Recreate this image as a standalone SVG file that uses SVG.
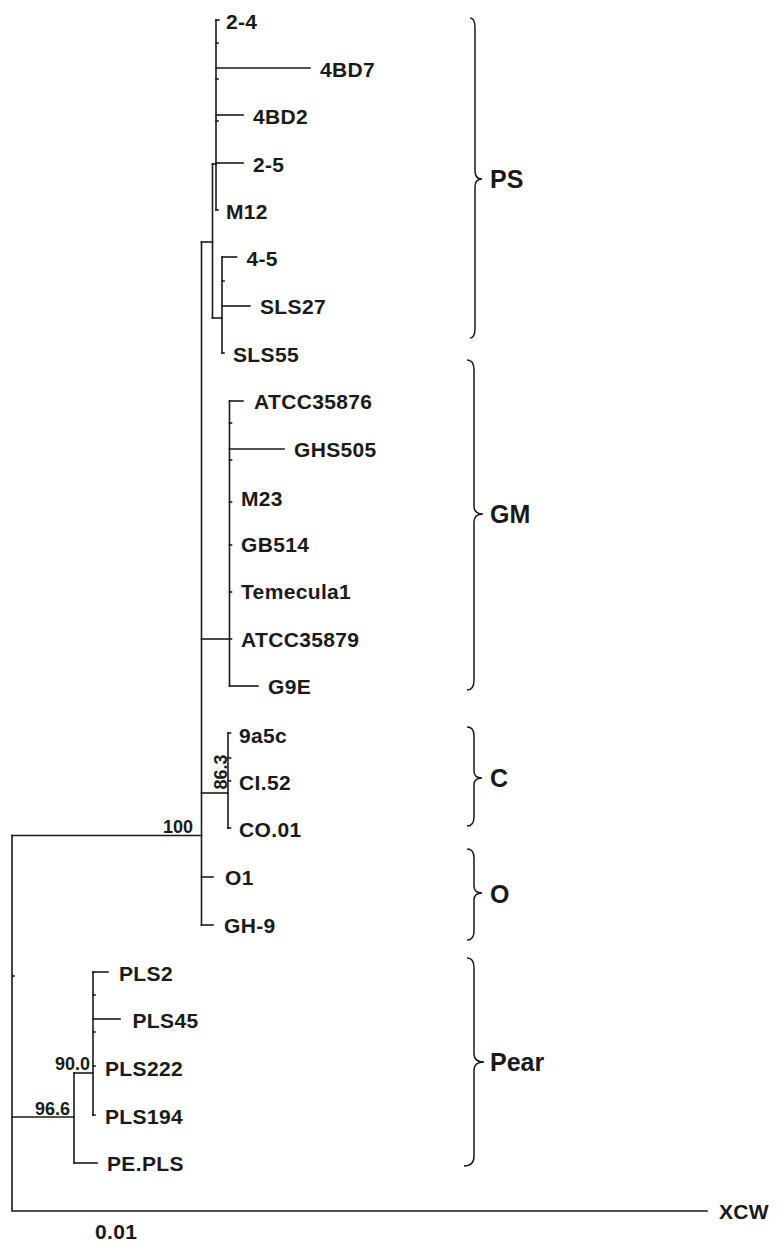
<svg xmlns="http://www.w3.org/2000/svg" width="781" height="1242" viewBox="0 0 781 1242">
<style>
.t{font-family:"Liberation Sans",Arial,sans-serif;font-weight:bold;font-size:21px;letter-spacing:0.35px;fill:#1a1a1a}
.g{font-family:"Liberation Sans",Arial,sans-serif;font-weight:bold;font-size:25px;fill:#1a1a1a}
.b{font-family:"Liberation Sans",Arial,sans-serif;font-weight:bold;font-size:18px;fill:#1a1a1a}
.l{stroke:#1a1a1a;stroke-width:1.6;fill:none;stroke-linecap:square}
.br{stroke:#1a1a1a;stroke-width:1.5;fill:none}
</style>
<rect width="781" height="1242" fill="#fff"/>
<g id="connectors" class="l">
<path d="M12,835.5 V1211 H707"/>
<path d="M12,976 H14"/>
<path d="M12,835.5 H201.5"/>
<path d="M201.5,242 V925"/>
<path d="M201.5,242 H212.5"/>
<path d="M201.5,639 H229.5"/>
<path d="M201.5,793 H228"/>
<path d="M201.5,877 H213"/>
<path d="M201.5,925 H213"/>
<path d="M212.5,164 V318"/>
<path d="M212.5,164 H216"/>
<path d="M216,20 V210"/>
<path d="M216,20 H219"/>
<path d="M216,43 H218"/>
<path d="M216,68 H310"/>
<path d="M216,79 H218"/>
<path d="M216,115 H243"/>
<path d="M216,121 H218"/>
<path d="M216,163 H243"/>
<path d="M216,210 H218"/>
<path d="M212.5,318 H222"/>
<path d="M222,257 V353"/>
<path d="M222,257 H236.5"/>
<path d="M222,281 H224"/>
<path d="M222,306 H250"/>
<path d="M222,353 H224"/>
<path d="M229.5,401 V686"/>
<path d="M229.5,401 H243"/>
<path d="M229.5,423 H231.5"/>
<path d="M229.5,449 H284"/>
<path d="M229.5,460 H231.5"/>
<path d="M229.5,502 H231.5"/>
<path d="M229.5,545 H231.5"/>
<path d="M229.5,592 H231.5"/>
<path d="M229.5,639 H231.5"/>
<path d="M229.5,686 H258"/>
<path d="M228,733 V828"/>
<path d="M228,733 H230.5"/>
<path d="M228,758 H230.5"/>
<path d="M228,781 H230.5"/>
<path d="M228,828 H230.5"/>
<path d="M12,1117 H74"/>
<path d="M74,1073 V1163"/>
<path d="M74,1163 H97"/>
<path d="M74,1073 H93"/>
<path d="M93,972 V1115"/>
<path d="M93,972 H108"/>
<path d="M93,995 H95"/>
<path d="M93,1019 H120"/>
<path d="M93,1032 H95"/>
<path d="M93,1066 H95"/>
<path d="M93,1115 H95"/>
</g>
<g id="leaf-2-4"><text class="t" x="226" y="28.5">2-4</text></g>
<g id="leaf-4BD7"><text class="t" x="320" y="77">4BD7</text></g>
<g id="leaf-4BD2"><text class="t" x="253" y="123.5">4BD2</text></g>
<g id="leaf-2-5"><text class="t" x="253" y="171.5">2-5</text></g>
<g id="leaf-M12"><text class="t" x="226" y="219">M12</text></g>
<g id="leaf-4-5"><text class="t" x="246.5" y="266">4-5</text></g>
<g id="leaf-SLS27"><text class="t" x="260" y="314">SLS27</text></g>
<g id="leaf-SLS55"><text class="t" x="233" y="361.5">SLS55</text></g>
<g id="leaf-ATCC35876"><text class="t" x="254" y="408.5">ATCC35876</text></g>
<g id="leaf-GHS505"><text class="t" x="294" y="457">GHS505</text></g>
<g id="leaf-M23"><text class="t" x="241" y="505.5">M23</text></g>
<g id="leaf-GB514"><text class="t" x="241" y="552">GB514</text></g>
<g id="leaf-Temecula1"><text class="t" x="241" y="599">Temecula1</text></g>
<g id="leaf-ATCC35879"><text class="t" x="241" y="646.5">ATCC35879</text></g>
<g id="leaf-G9E"><text class="t" x="268" y="694">G9E</text></g>
<g id="leaf-9a5c"><text class="t" x="239" y="743">9a5c</text></g>
<g id="leaf-CI52"><text class="t" x="239" y="790">CI.52</text></g>
<g id="leaf-CO01"><text class="t" x="239" y="837">CO.01</text></g>
<g id="leaf-O1"><text class="t" x="225" y="885">O1</text></g>
<g id="leaf-GH-9"><text class="t" x="224" y="933">GH-9</text></g>
<g id="leaf-PLS2"><text class="t" x="119" y="981">PLS2</text></g>
<g id="leaf-PLS45"><text class="t" x="132.5" y="1028">PLS45</text></g>
<g id="leaf-PLS222"><text class="t" x="105" y="1076">PLS222</text></g>
<g id="leaf-PLS194"><text class="t" x="105" y="1123.5">PLS194</text></g>
<g id="leaf-PEPLS"><text class="t" x="107" y="1171">PE.PLS</text></g>
<g id="leaf-XCW"><text class="t" x="719" y="1218.5">XCW</text></g>
<g id="bootstrap">
<text class="b" x="193" y="833" text-anchor="end">100</text>
<text class="b" x="70" y="1115" text-anchor="end">96.6</text>
<text class="b" x="90" y="1070" text-anchor="end">90.0</text>
<text class="b" text-anchor="middle" transform="translate(227,772) rotate(-90)">86.3</text>
</g>
<g id="scale"><text class="t" x="95" y="1239">0.01</text></g>
<g id="group-PS">
<path class="br" d="M470,18 Q475,18 475,28 V171 Q475,179 482,179 Q475,179 475,187 V328 Q475,338 470,338"/>
<text class="g" x="490" y="188">PS</text>
</g>
<g id="group-GM">
<path class="br" d="M467,360 Q474,360 474,370 V506 Q474,514 483,514 Q474,514 474,522 V680 Q474,690 467,690"/>
<text class="g" x="490" y="523">GM</text>
</g>
<g id="group-C">
<path class="br" d="M467,727 Q474,727 474,736 V771 Q474,778 482,778 Q474,778 474,785 V817 Q474,826 467,826"/>
<text class="g" x="490" y="787">C</text>
</g>
<g id="group-O">
<path class="br" d="M467,849 Q474,849 474,858 V886 Q474,893 482,893 Q474,893 474,900 V931 Q474,940 467,940"/>
<text class="g" x="490" y="903">O</text>
</g>
<g id="group-Pear">
<path class="br" d="M467,958 Q474,958 474,968 V1054 Q474,1062 484,1062 Q474,1062 474,1070 V1156 Q474,1166 464,1166"/>
<text class="g" x="490" y="1071">Pear</text>
</g>
</svg>
